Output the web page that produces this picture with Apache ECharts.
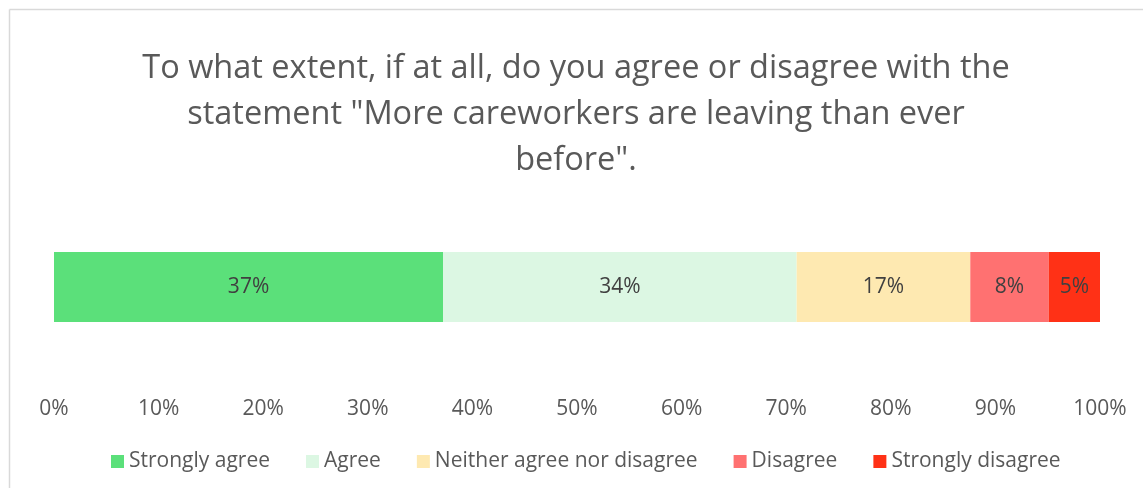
<!DOCTYPE html>
<html>
<head>
<meta charset="utf-8">
<script src="https://cdn.jsdelivr.net/npm/echarts@6/dist/echarts.min.js"></script>
<style>
  html, body { margin: 0; padding: 0; background: #fff; }
  #chart { width: 1143px; height: 488px; }
</style>
</head>
<body>
<div id="chart"></div>
<script>
// Response shares (percent of respondents)
const categories = ['Statement'];
const responseNames = ['Strongly agree', 'Agree', 'Neither agree nor disagree', 'Disagree', 'Strongly disagree'];
const strongly_agree = [37.2];
const agree = [33.8];
const neither = [16.6];
const disagree = [7.5];
const strongly_disagree = [4.9];
const tickLabels = ['0%', '10%', '20%', '30%', '40%', '50%', '60%', '70%', '80%', '90%', '100%'];

const seriesValues = [strongly_agree, agree, neither, disagree, strongly_disagree];
const colors = ['#5BE07A', '#DCF7E3', '#FEE9B1', '#FF7171', '#FF3116'];
const fontFamily = 'Open Sans, Noto Sans, sans-serif';

const chart = echarts.init(document.getElementById('chart'), null, { renderer: 'canvas' });

chart.setOption({
  animation: false,
  color: colors,
  title: {
    text: 'To what extent, if at all, do you agree or disagree with the\nstatement "More careworkers are leaving than ever\nbefore".',
    left: 571,
    top: 41,
    textAlign: 'center',
    textStyle: {
      fontFamily: fontFamily,
      fontSize: 32.5,
      fontWeight: 'normal',
      color: '#595959',
      lineHeight: 46
    }
  },
  legend: {
    bottom: 11,
    left: 106,
    itemWidth: 13,
    itemHeight: 13,
    itemGap: 36,
    icon: 'rect',
    textStyle: { fontFamily: fontFamily, fontSize: 21, color: '#595959' },
    data: responseNames
  },
  grid: { left: 54, right: 43, top: 200, bottom: 114 },
  xAxis: {
    type: 'value',
    min: 0,
    max: 100,
    interval: 10,
    axisLine: { show: false },
    axisTick: { show: false },
    splitLine: { show: false },
    axisLabel: {
      margin: 25,
      fontFamily: fontFamily,
      fontSize: 21,
      color: '#595959',
      formatter: function (v) { return tickLabels[Math.round(v / 10)]; }
    }
  },
  yAxis: {
    type: 'category',
    data: categories,
    axisLine: { show: false },
    axisTick: { show: false },
    axisLabel: { show: false }
  },
  graphic: [
    { type: 'line', shape: { x1: 9.5, y1: 9.5, x2: 1143, y2: 9.5 }, style: { stroke: '#d9d9d9', lineWidth: 1.5 }, silent: true },
    { type: 'line', shape: { x1: 9.5, y1: 9.5, x2: 9.5, y2: 488 }, style: { stroke: '#d9d9d9', lineWidth: 1.5 }, silent: true }
  ],
  series: responseNames.map(function (name, i) {
    return {
      name: name,
      type: 'bar',
      stack: 'total',
      barWidth: 70,
      data: seriesValues[i],
      label: {
        show: true,
        position: 'inside',
        fontFamily: fontFamily,
        fontSize: 21,
        color: '#404040',
        formatter: function (p) { return Math.round(p.value) + '%'; }
      }
    };
  })
});
</script>
</body>
</html>
